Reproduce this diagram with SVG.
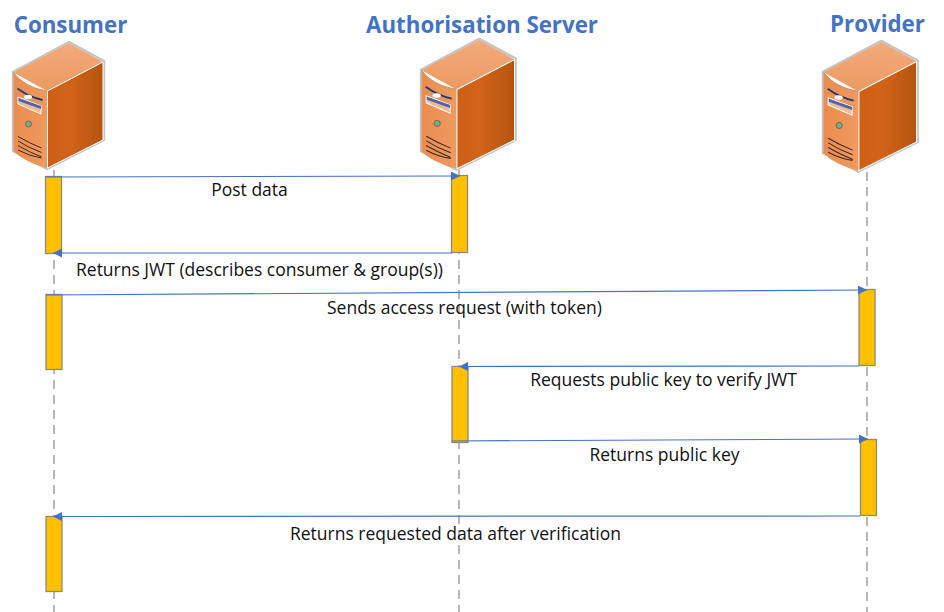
<svg xmlns="http://www.w3.org/2000/svg" xmlns:xlink="http://www.w3.org/1999/xlink" width="944" height="612" viewBox="0 0 944 612">
<style>
text{font-family:"Open Sans","Noto Sans","Liberation Sans",sans-serif}
.h{font-size:22.300px;font-weight:700;fill:#4472c4;text-anchor:middle}
.l{font-size:17.500px;fill:#111;text-anchor:middle}
.life{stroke:#a6a6a6;stroke-width:1.6;stroke-dasharray:9 6;fill:none}
.bar{fill:#ffc000;stroke:#8a8a80;stroke-width:1.3}
.c{stroke:#4472c4;stroke-width:1.2;fill:none;marker-end:url(#a)}
</style>
<defs>
<marker id="a" markerUnits="userSpaceOnUse" markerWidth="10" markerHeight="10" refX="9" refY="4.5" orient="auto"><path d="M0 0L9 4.5L0 9Z" fill="#4472c4"/></marker>
<linearGradient id="top" x1="0" y1="0" x2="0" y2="1"><stop offset="0" stop-color="#f2ab7a"/><stop offset="1" stop-color="#ec9a62"/></linearGradient>
<linearGradient id="side" x1="0" y1="0" x2="1" y2="0"><stop offset="0" stop-color="#cc6015"/><stop offset=".4" stop-color="#d2631a"/><stop offset="1" stop-color="#b5540d"/></linearGradient>
<linearGradient id="front" x1="0" y1="0" x2="1" y2="0"><stop offset="0" stop-color="#ec8c4e"/><stop offset="1" stop-color="#ee9a60"/></linearGradient>
<g id="srv">
<path d="M13 72L69 42L104 61V140L47 169L13 151Z" fill="#fff" stroke="#c4c4c4" stroke-width="2.4" stroke-linejoin="round"/>
<path d="M13.500 72.500L69 43L103 62L47 91Z" fill="url(#top)"/>
<path d="M47.500 91L103 62V140L47.500 168Z" fill="url(#side)" stroke="#fff" stroke-width="1"/>
<path d="M13.500 72.500Q24 87 47 91V168Q24 162 13.500 151Z" fill="url(#front)"/>
<path d="M13.500 72.500Q24 87 47 91" fill="none" stroke="#b98a5c" stroke-width=".8"/>
<path d="M17.500 88.500Q29 97 42.500 100" stroke="#1f3c78" stroke-width="1.800" fill="none"/>
<ellipse cx="28" cy="97" rx="4" ry="2.200" fill="#fff"/>
<path d="M18 97L41 106V114L18 104Z" fill="#f4ba90" stroke="#fff" stroke-width="1"/>
<path d="M18.500 98L41 106V109L18.500 101Z" fill="#4a66b0"/>
<circle cx="28.500" cy="124" r="3" fill="#6fae90" stroke="#7a5a3a" stroke-width=".8"/>
<path d="M18 136.500Q29 143 41.500 148M18 141Q29 148 41.500 152.500M18 145.500Q29 152 41.500 157M18 150Q29 156 41.500 158" stroke="#3a2a1e" stroke-width="1" fill="none"/>
</g>
</defs>
<g id="lifelines">
<path class="life" d="M54 170V612"/>
<path class="life" d="M459 170V612"/>
<path class="life" d="M867 172V612"/>
</g>
<g id="consumer"><text class="h" x="70.500" y="33">Consumer</text><use xlink:href="#srv" href="#srv"/></g>
<g id="auth"><text class="h" x="482" y="33">Authorisation Server</text><use xlink:href="#srv" href="#srv" transform="translate(407.500 -4.300) scale(1.040 1.030)"/></g>
<g id="provider"><text class="h" x="877.500" y="32">Provider</text><use xlink:href="#srv" href="#srv" transform="translate(809.500 -2.300) scale(1.040 1.030)"/></g>
<g id="activations">
<rect class="bar" x="45.500" y="176.500" width="16" height="77"/>
<rect class="bar" x="451.500" y="175.500" width="16" height="77"/>
<rect class="bar" x="46" y="294.500" width="16" height="75"/>
<rect class="bar" x="859" y="289.500" width="16" height="76"/>
<rect class="bar" x="452" y="366.500" width="16" height="76"/>
<rect class="bar" x="860.500" y="439.500" width="16" height="76"/>
<rect class="bar" x="46" y="516.500" width="16" height="75"/>
</g>
<g id="connectors">
<path class="c" d="M46 177L460 176"/>
<path class="c" d="M452 253L53 253"/>
<path class="c" d="M46 295L867 290"/>
<path class="c" d="M859 366L459 366.500"/>
<path class="c" d="M452 441L868 439"/>
<path class="c" d="M860 516L53 516.500"/>
</g>
<g id="labels">
<text class="l" x="249.500" y="196">Post data</text>
<text class="l" x="259.500" y="276">Returns JWT (describes consumer &amp; group(s))</text>
<text class="l" x="464.500" y="314">Sends access request (with token)</text>
<text class="l" x="663.500" y="386">Requests public key to verify JWT</text>
<text class="l" x="664.500" y="461">Returns public key</text>
<text class="l" x="455.500" y="540">Returns requested data after verification</text>
</g>
</svg>
